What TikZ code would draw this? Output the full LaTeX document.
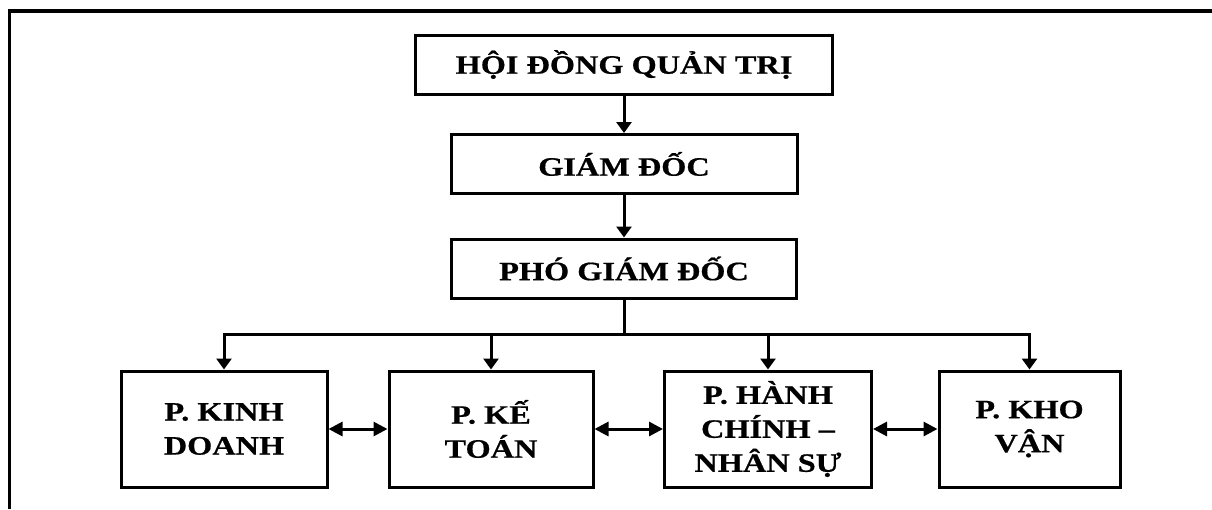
\documentclass[tikz,border=0pt]{standalone}
\usepackage{fontspec}
\usetikzlibrary{arrows.meta}
\newfontfamily\orgfont[FakeStretch=1.22,BoldFeatures={FakeBold=0.6}]{Liberation Serif}
\begin{document}
\begin{tikzpicture}[x=1pt,y=-1pt,
  box/.style={draw,line width=3pt,inner sep=0pt,align=center,
    font=\orgfont\bfseries\fontsize{26.5}{34}\selectfont},
  topbox/.style={box,minimum height=59pt},
  deptbox/.style={box,minimum height=116pt},
  link/.style={line width=3pt,-{Triangle[length=11pt,width=15pt]}},
  both/.style={line width=3pt,{Triangle[length=14pt,width=14pt]}-{Triangle[length=14pt,width=14pt]}}]
\useasboundingbox (0,0) rectangle (1212,509);
% frame
\draw[line width=3.5pt] (9.5,509) -- (9.5,11) -- (1212,11);
% management chain
\node[topbox,minimum width=417pt] (hdqt) at (624,64.5) {HỘI ĐỒNG QUẢN TRỊ};
\node[topbox,minimum width=346pt] (gd) at (624,164) {GIÁM ĐỐC};
\node[topbox,minimum width=345pt] (pgd) at (624,268.5) {PHÓ GIÁM ĐỐC};
% departments
\node[deptbox,minimum width=206pt] (kd) at (224,429) {P. KINH\\DOANH};
\node[deptbox,minimum width=204pt] (kt) at (491,429) {P. KẾ\\TOÁN};
\node[deptbox,minimum width=207pt] (hc) at (768,429) {P. HÀNH\\CHÍNH –\\NHÂN SỰ};
\node[deptbox,minimum width=181pt] (kv) at (1029.5,429) {P. KHO\\VẬN};
\coordinate (bus) at (624,334);
% connectors
\draw[link] (hdqt) -- (gd);
\draw[link] (gd) -- (pgd);
\draw[line width=3pt] (pgd) -- (bus);
\draw[link] (bus) -| (kd);
\draw[link] (bus) -| (kv);
\draw[link] (kt |- bus) -- (kt);
\draw[link] (hc |- bus) -- (hc);
\draw[both] (kd) -- (kt);
\draw[both] (kt) -- (hc);
\draw[both] (hc) -- (kv);
\end{tikzpicture}
\end{document}
